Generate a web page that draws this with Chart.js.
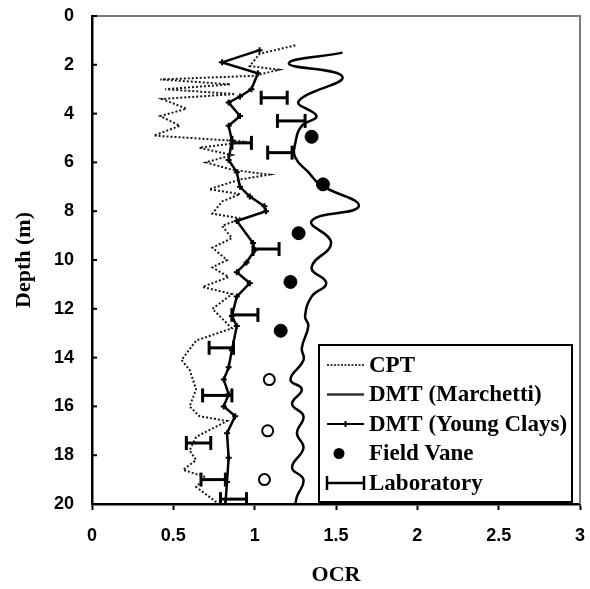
<!DOCTYPE html>
<html>
<head>
<meta charset="utf-8">
<script src="https://cdn.jsdelivr.net/npm/chart.js@4/dist/chart.umd.min.js"></script>
<style>
  html, body { margin: 0; padding: 0; background: #fff; }
  canvas { display: block; }
</style>
</head>
<body>
<canvas id="ocr" width="590" height="589"></canvas>
<script>
// OCR profiles with depth
const cptDepth = [1.2, 1.55, 2.05, 2.2, 2.45, 2.6, 2.8, 3.0, 3.2, 3.4, 3.8, 4.1, 4.5, 4.9, 5.15, 5.4, 5.7, 6.0, 6.3, 6.5, 6.7, 7.1, 7.3, 7.6, 8.1, 8.3, 8.6, 9.1, 9.5, 10.0, 10.3, 10.7, 11.1, 11.4, 11.7, 12.0, 12.4, 12.8, 13.3, 14.1, 14.5, 15.3, 16.0, 16.4, 16.6, 17.25, 17.8, 18.2, 18.6, 18.9, 19.3, 19.8, 20.0];
const cptOcr   = [1.25, 1.03, 0.97, 1.15, 1.0, 0.42, 0.85, 0.45, 0.88, 0.43, 0.58, 0.42, 0.54, 0.38, 0.95, 0.66, 0.86, 0.70, 0.86, 1.09, 0.91, 0.72, 0.91, 0.80, 0.74, 0.92, 0.80, 0.86, 0.74, 0.83, 0.74, 0.84, 0.68, 0.86, 0.80, 0.74, 0.80, 0.86, 0.64, 0.55, 0.60, 0.64, 0.60, 0.66, 0.83, 0.64, 0.60, 0.64, 0.56, 0.70, 0.64, 0.74, 0.78];

const marchettiDepth = [1.5, 1.95, 2.5, 3.5, 4.1, 4.5, 5.2, 5.8, 6.4, 6.9, 7.8, 8.4, 9.3, 10.3, 10.95, 11.5, 12.3, 12.7, 13.6, 14.1, 14.9, 15.3, 15.9, 16.4, 17.1, 17.7, 18.5, 19.0, 19.7, 20.0];
const marchettiOcr   = [1.54, 1.21, 1.54, 1.27, 1.38, 1.29, 1.25, 1.25, 1.33, 1.40, 1.64, 1.35, 1.47, 1.35, 1.44, 1.35, 1.31, 1.33, 1.29, 1.30, 1.22, 1.29, 1.23, 1.30, 1.26, 1.30, 1.23, 1.30, 1.26, 1.25];

const youngDepth = [1.4, 1.9, 2.35, 3.0, 3.3, 3.55, 4.1, 4.5, 5.1, 5.9, 6.4, 7.0, 7.4, 7.8, 8.0, 8.4, 9.3, 9.6, 10.1, 10.5, 10.95, 11.5, 12.3, 12.7, 13.7, 14.4, 14.9, 15.5, 16.0, 16.4, 17.1, 18.1, 19.1, 20.0];
const youngOcr   = [1.03, 0.80, 1.02, 0.98, 0.91, 0.84, 0.91, 0.84, 0.86, 0.84, 0.89, 0.91, 0.97, 1.06, 1.07, 0.89, 0.99, 1.00, 0.95, 0.89, 0.97, 0.89, 0.86, 0.89, 0.86, 0.84, 0.81, 0.84, 0.81, 0.88, 0.83, 0.84, 0.83, 0.82];

// Field vane: solid symbols, then open symbols below 14 m
const vaneDepth = [4.95, 6.9, 8.9, 10.9, 12.9];
const vaneOcr   = [1.35, 1.42, 1.27, 1.22, 1.16];
const vaneOpenDepth = [14.9, 17.0, 19.0];
const vaneOpenOcr   = [1.09, 1.08, 1.06];

// Laboratory ranges: depth, lower and upper OCR
const labDepth = [3.35, 4.3, 5.2, 5.6, 9.55, 12.25, 13.6, 15.55, 17.5, 19.0, 19.8];
const labLow   = [1.04, 1.14, 0.86, 1.08, 0.99, 0.86, 0.72, 0.68, 0.58, 0.67, 0.79];
const labHigh  = [1.20, 1.31, 0.98, 1.23, 1.15, 1.02, 0.87, 0.86, 0.73, 0.82, 0.95];

const xTicks = [0, 0.5, 1, 1.5, 2, 2.5, 3];
const yTicks = [0, 2, 4, 6, 8, 10, 12, 14, 16, 18, 20];

const legendItems = ['CPT', 'DMT (Marchetti)', 'DMT (Young Clays)', 'Field Vane', 'Laboratory'];

const pts = (xs, ys) => xs.map((x, i) => ({ x: x, y: ys[i] }));

const datasets = [
  {
    label: 'CPT', data: pts(cptOcr, cptDepth), showLine: true,
    borderColor: '#1a1a1a', borderWidth: 2, borderDash: [2, 2], pointRadius: 0, tension: 0
  },
  {
    label: 'DMT (Marchetti)', data: pts(marchettiOcr, marchettiDepth), showLine: true,
    borderColor: '#000', borderWidth: 2.5, pointRadius: 0, tension: 0.45
  },
  {
    label: 'DMT (Young Clays)', data: pts(youngOcr, youngDepth), showLine: true,
    borderColor: '#000', borderWidth: 2.5, pointStyle: 'cross', pointRadius: 3,
    pointBorderWidth: 2, pointBorderColor: '#000', tension: 0
  },
  {
    label: 'Field Vane', data: pts(vaneOcr, vaneDepth), showLine: false,
    pointStyle: 'circle', pointRadius: 6.5, backgroundColor: '#000', borderColor: '#000'
  },
  {
    label: 'Field Vane (open)', data: pts(vaneOpenOcr, vaneOpenDepth), showLine: false,
    pointStyle: 'circle', pointRadius: 5.5, backgroundColor: '#fff', borderColor: '#000', pointBorderWidth: 2
  }
];

// each laboratory range is a short horizontal segment with vertical end caps
labDepth.forEach((d, i) => {
  datasets.push({
    label: 'Laboratory', data: [{ x: labLow[i], y: d }, { x: labHigh[i], y: d }], showLine: true,
    borderColor: '#000', borderWidth: 3, pointStyle: 'line', pointRotation: 90,
    pointRadius: 7, pointBorderWidth: 3, pointBorderColor: '#000'
  });
});

const serif = '"Liberation Serif", "Times New Roman", serif';
const sans = '"Liberation Sans", Arial, sans-serif';

// frame: grey top/right edges and inward ticks on the depth axis
const framePlugin = {
  id: 'frame',
  afterDraw(chart) {
    const { ctx, chartArea: a, scales } = chart;
    ctx.save();
    ctx.strokeStyle = '#7a7a7a';
    ctx.lineWidth = 2;
    ctx.beginPath();
    ctx.moveTo(a.left, a.top); ctx.lineTo(a.right, a.top); ctx.lineTo(a.right, a.bottom);
    ctx.stroke();
    ctx.strokeStyle = '#000';
    ctx.lineWidth = 2;
    yTicks.forEach(v => {
      const y = scales.y.getPixelForValue(v);
      ctx.beginPath(); ctx.moveTo(a.left, y); ctx.lineTo(a.left + 5, y); ctx.stroke();
    });
    ctx.restore();
  }
};

// boxed key in the lower right of the plot
const keyPlugin = {
  id: 'key',
  afterDraw(chart) {
    const { ctx, chartArea: a } = chart;
    const left = a.right - 261, top = a.bottom - 159, right = a.right - 8, bottom = a.bottom - 2;
    ctx.save();
    ctx.fillStyle = '#fff';
    ctx.fillRect(left, top, right - left, bottom - top);
    ctx.strokeStyle = '#000';
    ctx.lineWidth = 2;
    ctx.strokeRect(left, top, right - left, bottom - top);
    const sx0 = left + 8, sx1 = left + 45, tx = left + 50;
    const rowY = i => top + 20 + i * 29.5;
    ctx.font = 'bold 23px ' + serif;
    ctx.textBaseline = 'middle';
    ctx.fillStyle = '#000';
    legendItems.forEach((t, i) => {
      const y = rowY(i);
      ctx.setLineDash([]);
      ctx.strokeStyle = '#000';
      if (i === 0) {
        ctx.lineWidth = 1.5; ctx.setLineDash([2, 1.5]);
        ctx.beginPath(); ctx.moveTo(sx0, y); ctx.lineTo(sx1, y); ctx.stroke();
      } else if (i === 1) {
        ctx.lineWidth = 2.5; ctx.strokeStyle = '#333';
        ctx.beginPath(); ctx.moveTo(sx0, y); ctx.lineTo(sx1, y); ctx.stroke();
      } else if (i === 2) {
        ctx.lineWidth = 2;
        ctx.beginPath(); ctx.moveTo(sx0, y); ctx.lineTo(sx1, y); ctx.stroke();
        const cx = (sx0 + sx1) / 2;
        ctx.beginPath(); ctx.moveTo(cx - 3, y); ctx.lineTo(cx + 3, y); ctx.moveTo(cx, y - 3); ctx.lineTo(cx, y + 3); ctx.stroke();
      } else if (i === 3) {
        ctx.beginPath(); ctx.arc(sx0 + 12, y, 5.5, 0, Math.PI * 2); ctx.fill();
      } else {
        ctx.lineWidth = 2.5;
        ctx.beginPath();
        ctx.moveTo(sx0, y); ctx.lineTo(sx1, y);
        ctx.moveTo(sx0, y - 7); ctx.lineTo(sx0, y + 7);
        ctx.moveTo(sx1, y - 7); ctx.lineTo(sx1, y + 7);
        ctx.stroke();
      }
      ctx.setLineDash([]);
      ctx.fillText(t, tx, y + 1);
    });
    ctx.restore();
  }
};

new Chart(document.getElementById('ocr'), {
  type: 'scatter',
  data: { datasets: datasets },
  options: {
    responsive: false,
    animation: false,
    layout: { padding: { left: 0, right: 0, top: 16, bottom: 0 } },
    plugins: { legend: { display: false }, tooltip: { enabled: false } },
    scales: {
      x: {
        type: 'linear', min: 0, max: 3,
        afterFit(scale) { scale.height = 85; scale.paddingRight = 6; scale.paddingLeft = 0; },
        afterBuildTicks(scale) { scale.ticks = xTicks.map(v => ({ value: v })); },
        grid: { drawOnChartArea: false, drawTicks: true, tickLength: 6, tickWidth: 2, tickColor: '#000' },
        border: { color: '#000', width: 2.5 },
        ticks: { color: '#000', font: { family: sans, size: 18, weight: 'bold' }, padding: 15, maxRotation: 0,
                 callback: v => String(v) },
        title: { display: true, text: 'OCR', color: '#000', font: { family: serif, size: 22, weight: 'bold' }, padding: { top: 0, bottom: 0 } }
      },
      y: {
        type: 'linear', min: 0, max: 20, reverse: true,
        afterFit(scale) { scale.width = 92; scale.paddingTop = 0; scale.paddingBottom = 0; },
        afterBuildTicks(scale) { scale.ticks = yTicks.map(v => ({ value: v })); },
        grid: { drawOnChartArea: false, drawTicks: false },
        border: { color: '#000', width: 2.5 },
        ticks: { color: '#000', font: { family: sans, size: 18, weight: 'bold' }, padding: 18, callback: v => String(v) },
        title: { display: true, text: 'Depth (m)', color: '#000', font: { family: serif, size: 22, weight: 'bold' }, padding: { top: 11, bottom: 0 } }
      }
    }
  },
  plugins: [framePlugin, keyPlugin]
});
</script>
</body>
</html>
